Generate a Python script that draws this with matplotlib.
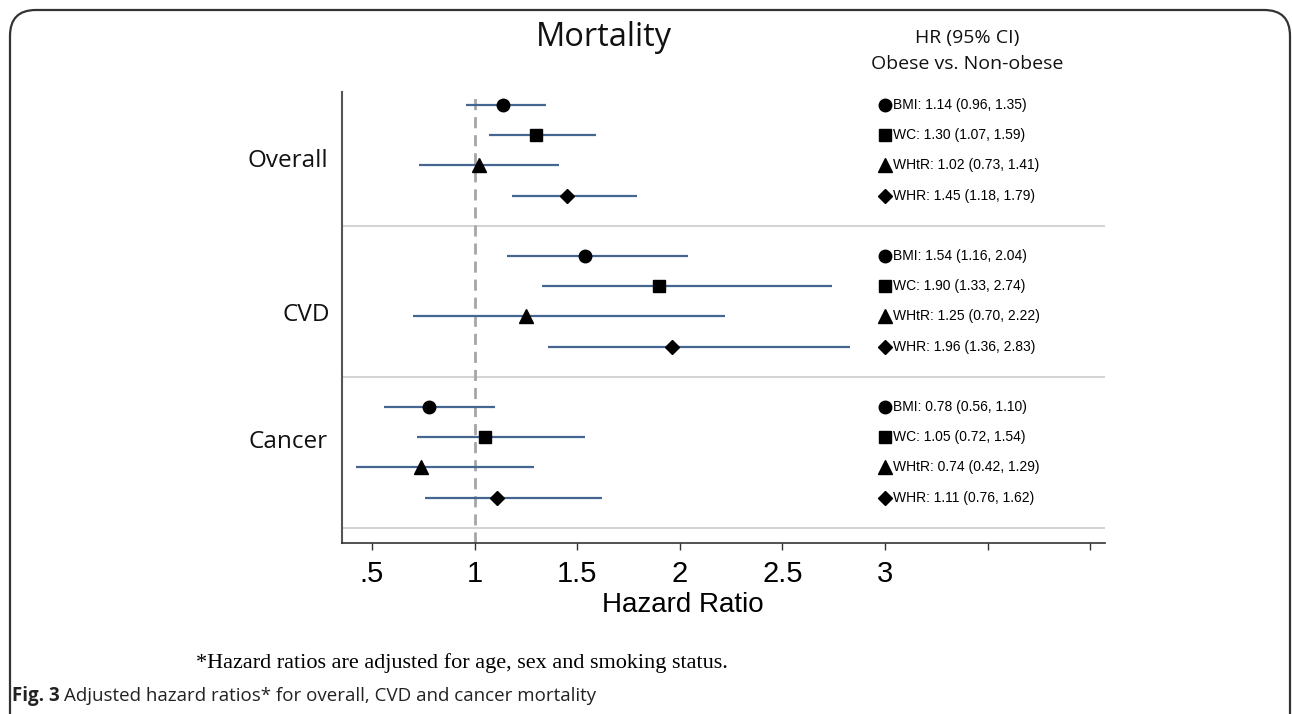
import matplotlib.pyplot as plt
from matplotlib.patches import FancyBboxPatch

# hazard ratios, obese vs non-obese
groups = ["Overall", "CVD", "Cancer"]
measures = ["BMI", "WC", "WHtR", "WHR"]
hr = [[1.14, 1.30, 1.02, 1.45],
      [1.54, 1.90, 1.25, 1.96],
      [0.78, 1.05, 0.74, 1.11]]
lo = [[0.96, 1.07, 0.73, 1.18],
      [1.16, 1.33, 0.70, 1.36],
      [0.56, 0.72, 0.42, 0.76]]
hi = [[1.35, 1.59, 1.41, 1.79],
      [2.04, 2.74, 2.22, 2.83],
      [1.10, 1.54, 1.29, 1.62]]
xticks = [0.5, 1, 1.5, 2, 2.5, 3, 3.5, 4]
xticklabels = [".5", "1", "1.5", "2", "2.5", "3", "", ""]

markers = {"BMI": ("o", 9), "WC": ("s", 8.5), "WHtR": ("^", 9.5), "WHR": ("D", 7.5)}
label_y = [2.85, 7.95, 12.15]
label_x = [0.09, 0.18, 0.09]

fig = plt.figure(figsize=(12.92, 7.14), dpi=100)

# rounded frame around the figure panel
frame = FancyBboxPatch((10 / 1292, -0.05), 1280 / 1292, (704 / 714) + 0.05,
                       boxstyle="round,pad=0,rounding_size=0.02",
                       transform=fig.transFigure, fill=False,
                       edgecolor="#333333", linewidth=1.6, mutation_aspect=1292 / 714)
fig.patches.append(frame)

ax = fig.add_axes([342 / 1292, 1 - 543 / 714, 763 / 1292, 451 / 714])
ax.set_xlim(0.354, 4.072)
ax.set_ylim(15.5, 0.57)

ax.axvline(1, color="#a6a6a6", lw=2, ls=(0, (4, 2.5)), zorder=1)

for g in range(len(groups)):
    base = g * 5 + 1
    for m, name in enumerate(measures):
        y = base + m
        ax.hlines(y, lo[g][m], hi[g][m], color="#456690", lw=1.6, zorder=2)
        mk, ms = markers[name]
        ax.plot(hr[g][m], y, marker=mk, ms=ms, color="black", zorder=3)
        ax.plot(3.0, y, marker=mk, ms=ms, color="black", clip_on=False)
        ax.annotate("%s: %.2f (%.2f, %.2f)" % (name, hr[g][m], lo[g][m], hi[g][m]),
                    (3.0, y), xytext=(6, 0), textcoords="offset points",
                    va="center", ha="left", fontsize=10, family="Liberation Sans")
    ax.axhline(base + 4, color="#d4d4d4", lw=1.5, zorder=0)
    ax.text(label_x[g], label_y[g], groups[g], ha="center", va="center",
            fontsize=17.5, family="Open Sans", color="#111111")

for s in ["top", "right"]:
    ax.spines[s].set_visible(False)
ax.spines["left"].set_color("#555555")
ax.spines["bottom"].set_color("#333333")
ax.spines["left"].set_linewidth(1.5)
ax.spines["bottom"].set_linewidth(1.2)
ax.set_yticks([])
ax.set_xticks(xticks)
ax.set_xticklabels(xticklabels, fontsize=21, family="Liberation Sans")
ax.tick_params(axis="x", length=5, width=1, color="#333333", pad=7)

fig.text(683 / 1292, 1 - 605 / 714, "Hazard Ratio", ha="center", va="center",
         fontsize=20, family="Liberation Sans")
fig.text(604 / 1292, 1 - 38 / 714, "Mortality", ha="center", va="center",
         fontsize=23.5, family="Open Sans", color="#111111")
fig.text(967 / 1292, 1 - 38 / 714, "HR (95% CI)", ha="center", va="center",
         fontsize=14, family="Open Sans", color="#111111")
fig.text(967 / 1292, 1 - 64 / 714, "Obese vs. Non-obese", ha="center", va="center",
         fontsize=14, family="Open Sans", color="#111111")

fig.text(196 / 1292, 1 - 663 / 714, "*Hazard ratios are adjusted for age, sex and smoking status.",
         ha="left", va="center", fontsize=16, family="Liberation Serif")
fig.text(12 / 1292, 1 - 696 / 714, "Fig. 3", ha="left", va="center",
         fontsize=13.5, family="Open Sans", weight="bold", color="#222222")
fig.text(64 / 1292, 1 - 696 / 714, "Adjusted hazard ratios* for overall, CVD and cancer mortality",
         ha="left", va="center", fontsize=13.5, family="Open Sans", color="#222222")

fig.savefig("out.png", dpi=100)
